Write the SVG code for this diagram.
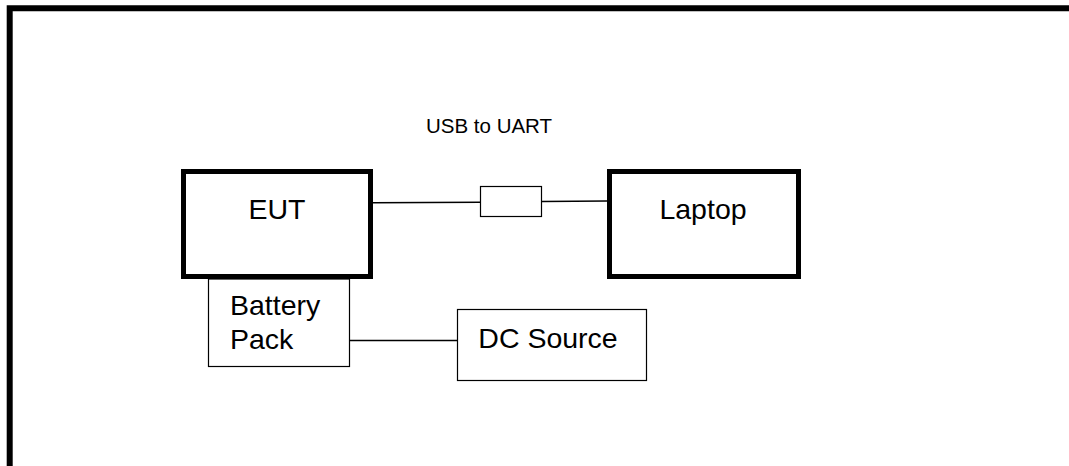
<svg xmlns="http://www.w3.org/2000/svg" width="1069" height="466" viewBox="0 0 1069 466">
<style>
.thick{fill:#fff;stroke:#000;stroke-width:5}
.thin{fill:#fff;stroke:#000;stroke-width:1.2}
.ln{fill:none;stroke:#000;stroke-width:1.5}
text{font-family:"Liberation Sans",Arial,sans-serif;fill:#000}
.lbl{font-size:28.5px}
</style>
<rect width="1069" height="466" fill="#fff"/>
<path d="M9.7 466 V8.2 H1069" fill="none" stroke="#000" stroke-width="6"/>
<g id="connectors">
<line class="ln" x1="373" y1="202.7" x2="480.5" y2="202.3"/>
<line class="ln" x1="542" y1="201.5" x2="607" y2="201"/>
<line class="ln" x1="350" y1="340.5" x2="457" y2="340.5"/>
</g>
<g id="usb-adapter">
<rect class="thin" x="480.5" y="186.5" width="61" height="30"/>
<text x="426" y="133" font-size="20.5">USB to UART</text>
</g>
<g id="eut">
<rect class="thick" x="183.5" y="171.5" width="187" height="105"/>
<text class="lbl" x="277" y="218.5" text-anchor="middle">EUT</text>
</g>
<g id="laptop">
<rect class="thick" x="609.5" y="171.5" width="189" height="105"/>
<text class="lbl" x="703" y="218.5" text-anchor="middle">Laptop</text>
</g>
<g id="battery-pack">
<rect class="thin" x="208.5" y="279" width="141" height="87.5"/>
<text class="lbl" x="230" y="314.5">Battery</text>
<text class="lbl" x="230" y="348.5">Pack</text>
</g>
<g id="dc-source">
<rect class="thin" x="457.5" y="309.5" width="189" height="71"/>
<text class="lbl" x="548" y="347.5" text-anchor="middle">DC Source</text>
</g>
</svg>
